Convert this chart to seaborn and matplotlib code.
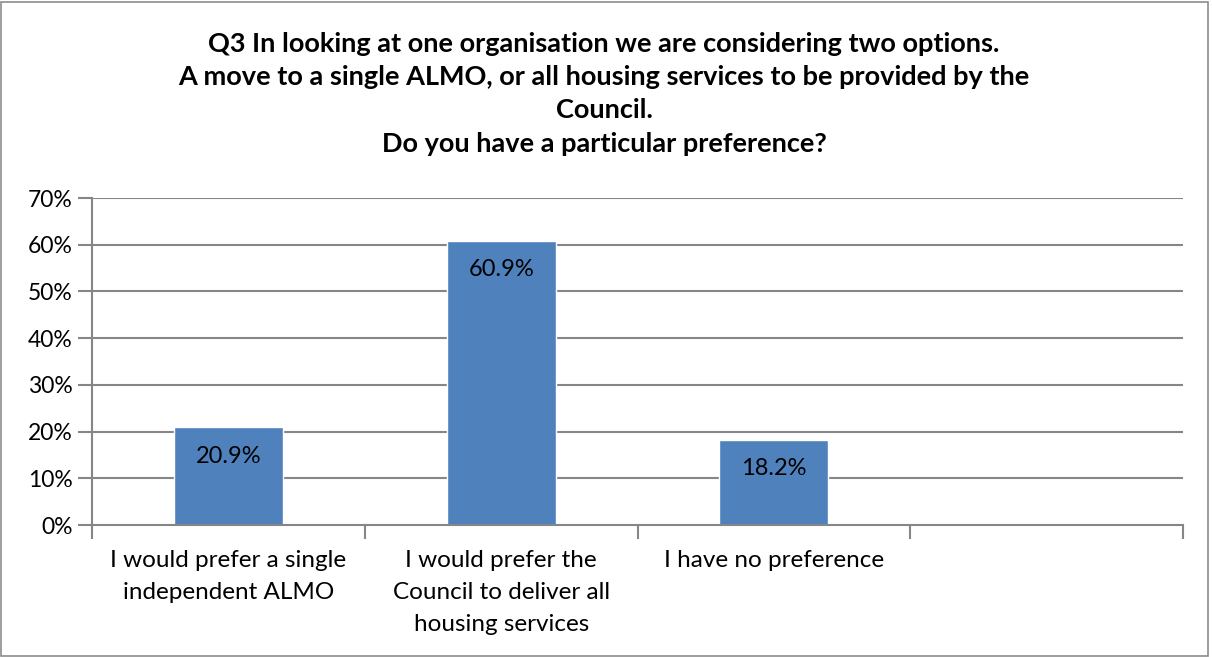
import matplotlib
matplotlib.use("Agg")
import matplotlib.pyplot as plt
import seaborn as sns
import pandas as pd
import numpy as np

categories = [
    "I would prefer a single\nindependent ALMO",
    "I would prefer the\nCouncil to deliver all\nhousing services",
    "I have no preference",
]
shares = [20.9, 60.9, 18.2]
value_labels = ["20.9%", "60.9%", "18.2%"]
y_ticks = [0, 10, 20, 30, 40, 50, 60, 70]
y_tick_labels = ["0%", "10%", "20%", "30%", "40%", "50%", "60%", "70%"]
title = ("Q3 In looking at one organisation we are considering two options.\n"
         "A move to a single ALMO, or all housing services to be provided by the\n"
         "Council.\n"
         "Do you have a particular preference?")

sns.set_theme(style="white")
plt.rcParams["font.family"] = ["Lato", "DejaVu Sans"]

W, H = 1212, 657
fig = plt.figure(figsize=(W / 100, H / 100), dpi=100)
fig.patch.set_facecolor("white")

# outer chart border
border = plt.Rectangle((0.5 / W, 1.5 / H), (W - 5) / W, (H - 3) / H,
                       transform=fig.transFigure, fill=False,
                       edgecolor="#8c8c8c", linewidth=1.2)
fig.add_artist(border)

left, right, top, bottom = 92, 1183, 198, 525
ax = fig.add_axes([left / W, 1 - bottom / H, (right - left) / W, (bottom - top) / H])

df = pd.DataFrame({"category": categories, "share": shares})
sns.barplot(data=df, x="category", y="share", ax=ax, color="#4f81bd",
            saturation=1, width=0.4, order=categories)

ax.set_xlim(-0.5, 3.5)
ax.set_ylim(0, 70)
ax.set_yticks(y_ticks)
ax.set_yticklabels(y_tick_labels, fontsize=16.5, color="black")
ax.set_xlabel("")
ax.set_ylabel("")

grid_c = "#868686"
for y in y_ticks[1:]:
    ax.axhline(y, color=grid_c, linewidth=1.5, zorder=0)

for s in ["top", "right"]:
    ax.spines[s].set_visible(False)
for s in ["left", "bottom"]:
    ax.spines[s].set_color(grid_c)
    ax.spines[s].set_linewidth(1.5)

ax.tick_params(axis="y", which="major", length=10, width=1.5, color=grid_c,
               left=True, pad=4)
# category ticks at the slot boundaries, labels at slot centres
ax.set_xticks([-0.5, 0.5, 1.5, 2.5, 3.5])
ax.set_xticklabels([])
ax.tick_params(axis="x", which="major", length=10, width=1.5, color=grid_c,
               bottom=True)
ax.set_xticks([0, 1, 2], minor=True)
ax.set_xticklabels(categories, minor=True, fontsize=17.5, color="black",
                   linespacing=1.65, va="top")
ax.tick_params(axis="x", which="minor", length=0, pad=18)

for i, (v, lab) in enumerate(zip(shares, value_labels)):
    ax.annotate(lab, xy=(i, v), xytext=(0, -29), textcoords="offset pixels",
                ha="center", va="center", fontsize=17, color="black")

fig.text(0.5 * (W - 4) / W, 1 - 32 / H, title, ha="center", va="top",
         fontsize=19.5, fontweight="bold", linespacing=1.46, color="black")

fig.savefig("out.png", dpi=100, facecolor="white")
